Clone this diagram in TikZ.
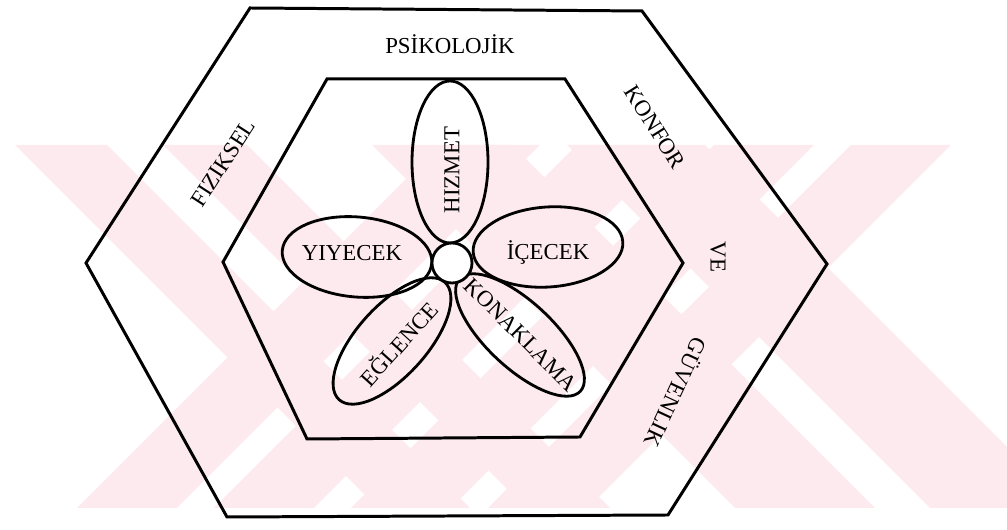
\documentclass[tikz,border=0pt]{standalone}
\usepackage{fontspec}
\setmainfont{Liberation Serif}
\usepackage{tikz}
\usetikzlibrary{shapes.geometric}
\definecolor{wmcolor}{RGB}{253,234,238}
\tikzset{
  wmband/.style={fill=wmcolor, draw=none},
  ringline/.style={draw=black, line width=1.7pt, line join=miter},
  petal/.style={ellipse, draw=black, line width=1.6pt, inner sep=0pt},
  hub/.style={circle, draw=black, line width=1.6pt, fill=white,
              minimum size=0.8cm, inner sep=0pt},
  ringtext/.style={font=\fontsize{13}{15}\selectfont, inner sep=1pt},
  petaltext/.style={font=\fontsize{13}{15}\selectfont, inner sep=1pt},
}

\begin{document}
\begin{tikzpicture}
  \useasboundingbox (0,0) rectangle (20.14,10.6);

  % Watermark
  \begin{scope}
    \clip (0.2,0.44) rectangle (20.14,7.70);
    \foreach \a/\b in {8.80/10.80, 11.54/13.54, 14.28/16.28, 17.02/19.02}
      \fill[wmband] (\a,7.70) -- (\b,7.70) -- ++(-7.26,-7.26) -- ({\a-7.26},0.44) -- cycle;
    \foreach \a/\b in {0.30/2.14, 3.26/4.94, 7.44/10.24, 11.34/14.10}
      \fill[wmband] (\a,7.70) -- (\b,7.70) -- ++(7.26,-7.26) -- ({\a+7.26},0.44) -- cycle;
  \end{scope}

  % Rings
  \draw[ringline] (5.00,10.44) -- (12.84,10.38) -- (16.54,5.32) -- (13.36,0.30)
    -- (4.54,0.26) -- (1.72,5.34) -- cycle;
  \draw[ringline] (6.54,9.02) -- (11.30,9.02) -- (13.66,5.34) -- (11.60,1.86)
    -- (6.14,1.82) -- (4.46,5.36) -- cycle;

  % Petals
  \node[petal, minimum width=3.24cm, minimum height=1.52cm, rotate=90] (hizmet) at (9.00,7.36) {};
  \node[petal, minimum width=3.0cm, minimum height=1.6cm, rotate=-5] (yiyecek) at (7.14,5.46) {};
  \node[petal, minimum width=3.0cm, minimum height=1.6cm, rotate=4] (icecek) at (10.96,5.66) {};
  \node[petal, minimum width=3.16cm, minimum height=1.4cm, rotate=48] (eglence) at (7.84,3.78) {};
  \node[petal, minimum width=3.3cm, minimum height=1.32cm, rotate=-43] (konaklama) at (10.40,3.90) {};
  \node[hub] (hub) at (9.04,5.34) {};

  % Petal labels
  \node[petaltext, rotate=90] (hizmettext) at (9.04,7.20) {HIZMET};
  \node[petaltext] (yiyecektext) at (7.04,5.54) {YIYECEK};
  \node[petaltext] (icecektext) at (10.96,5.54) {İÇECEK};
  \node[petaltext, rotate=48] (eglencetext) at (7.96,3.74) {EĞLENCE};
  \node[petaltext, rotate=-45] (konaklamatext) at (10.42,3.90) {KONAKLAMA};

  % Ring labels
  \node[ringtext] (psikolojik) at (9.00,9.72) {PSİKOLOJİK};
  \node[ringtext, rotate=57] (fiziksel) at (4.46,7.34) {FIZIKSEL};
  \node[ringtext, rotate=-58] (konfor) at (13.10,8.06) {KONFOR};
  \node[ringtext, rotate=-90] (ve) at (14.36,5.46) {VE};
  \node[ringtext, rotate=-115] (guvenlik) at (13.54,2.74) {GÜVENLIK};
\end{tikzpicture}
\end{document}
